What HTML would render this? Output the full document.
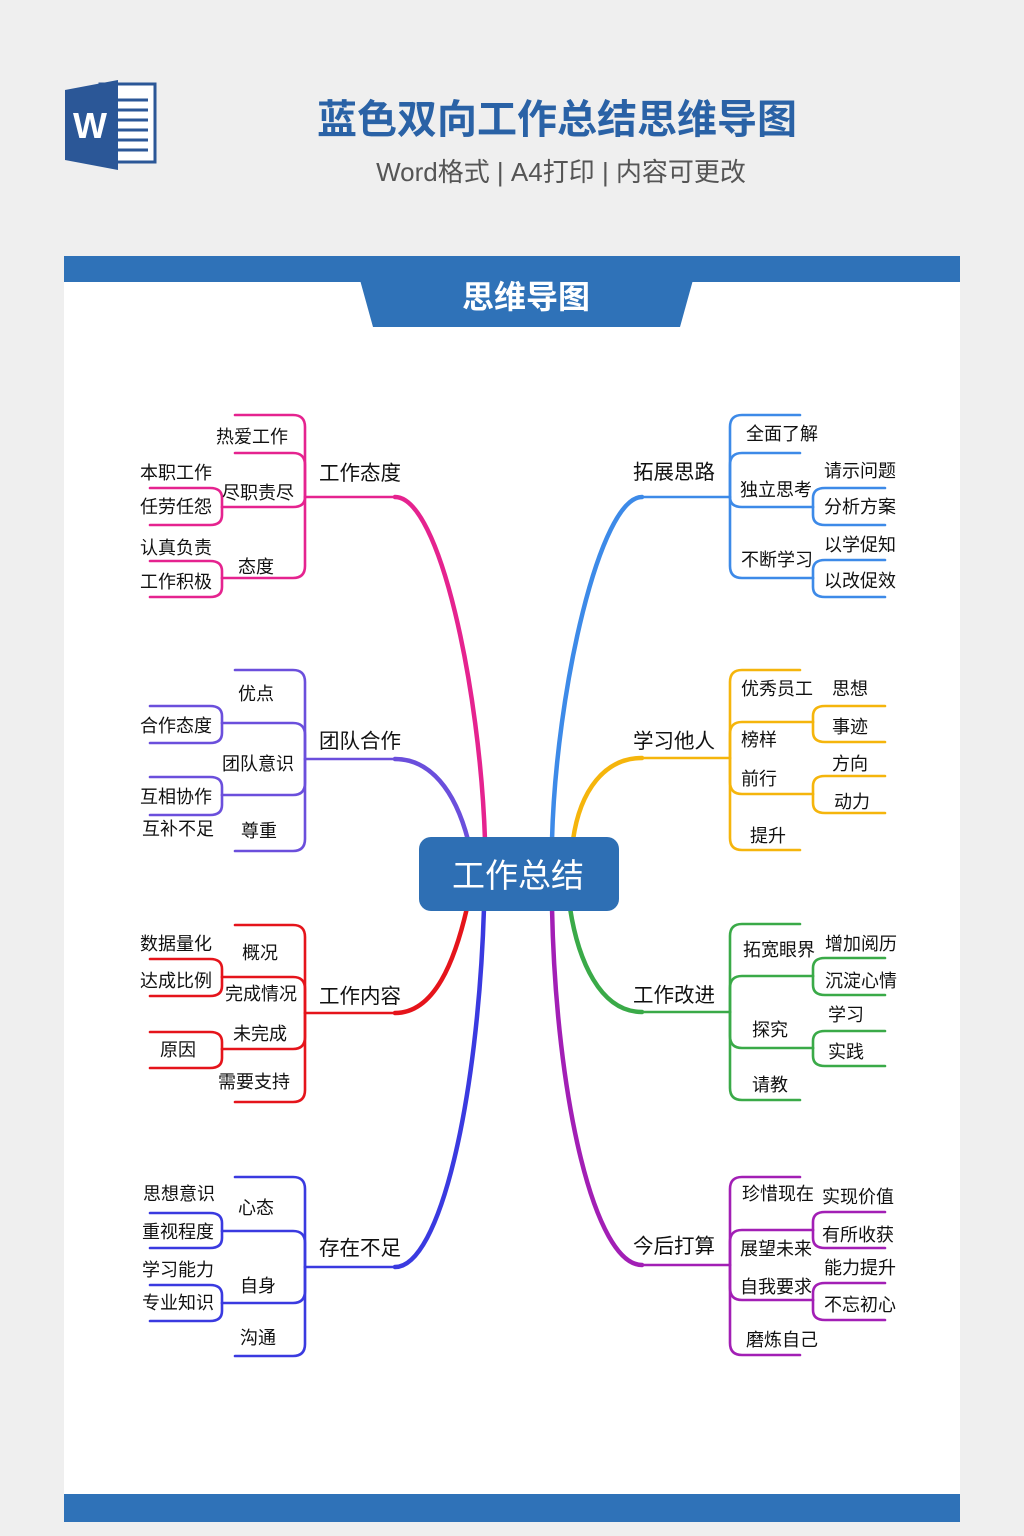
<!DOCTYPE html>
<html><head><meta charset="utf-8"><style>
html,body{margin:0;padding:0;width:1024px;height:1536px;background:#efefef;overflow:hidden}
svg{display:block}
text{font-family:"Liberation Sans","Noto Sans CJK SC",sans-serif}
</style></head><body>
<svg width="1024" height="1536" viewBox="0 0 1024 1536" xmlns="http://www.w3.org/2000/svg">
<rect width="1024" height="1536" fill="#efefef"/>
<!-- Word icon -->
<rect x="100" y="84" width="55" height="78" fill="#fff" stroke="#2b5797" stroke-width="3"/>
<g stroke="#2b5797" stroke-width="3">
<line x1="118" y1="100" x2="148" y2="100"/><line x1="118" y1="110" x2="148" y2="110"/><line x1="118" y1="120" x2="148" y2="120"/><line x1="118" y1="130" x2="148" y2="130"/><line x1="118" y1="140" x2="148" y2="140"/><line x1="118" y1="150" x2="148" y2="150"/></g>
<polygon points="65,90 118,80 118,170 65,160" fill="#2b5797"/>
<text x="90" y="138" font-size="36" font-weight="bold" fill="#fff" text-anchor="middle">W</text>
<text x="557" y="133" font-size="40" font-weight="bold" fill="#2a62a6" text-anchor="middle">蓝色双向工作总结思维导图</text>
<text x="561" y="181" font-size="26" fill="#555" text-anchor="middle">Word格式 | A4打印 | 内容可更改</text>
<!-- panel -->
<rect x="64" y="256" width="896" height="1266" fill="#fff"/>
<rect x="64" y="256" width="896" height="26" fill="#2f72b8"/>
<polygon points="360,280 693,280 680,327 373,327" fill="#2f72b8"/>
<text x="526" y="308" font-size="32" font-weight="bold" fill="#fff" text-anchor="middle">思维导图</text>
<rect x="64" y="1494" width="896" height="28" fill="#2f72b8"/>

<g fill="none" stroke-linecap="round" stroke-width="2.6">
<g stroke="#e5238f">
<path d="M395,497 C440,497 480,690 485,840" stroke-width="4.5"/>
<path d="M305,497 L395,497"/>
<path d="M305,497 L305,427 Q305,415 293,415 L235,415"/>
<path d="M305,497 L305,465 Q305,453 293,453 L235,453"/>
<path d="M305,497 Q305,507 293,507 L222,507"/>
<path d="M305,497 L305,566 Q305,578 293,578 L222,578"/>
<path d="M222,507 L222,498 Q222,488 210,488 L150,488"/>
<path d="M222,507 L222,515 Q222,525 210,525 L150,525"/>
<path d="M222,578 L222,571 Q222,561 210,561 L150,561"/>
<path d="M222,578 L222,587 Q222,597 210,597 L150,597"/>
</g>
<g stroke="#6b4fdc">
<path d="M395,759 C430,759 455,790 468,840" stroke-width="4.5"/>
<path d="M305,759 L395,759"/>
<path d="M305,759 L305,682 Q305,670 293,670 L235,670"/>
<path d="M305,759 L305,735 Q305,723 293,723 L222,723"/>
<path d="M305,759 L305,783 Q305,795 293,795 L222,795"/>
<path d="M305,759 L305,839 Q305,851 293,851 L235,851"/>
<path d="M222,723 L222,716 Q222,706 210,706 L150,706"/>
<path d="M222,723 L222,733 Q222,743 210,743 L150,743"/>
<path d="M222,795 L222,787 Q222,777 210,777 L150,777"/>
<path d="M222,795 L222,805 Q222,815 210,815 L150,815"/>
</g>
<g stroke="#e5141b">
<path d="M395,1013 C435,1013 455,960 467,908" stroke-width="4.5"/>
<path d="M305,1013 L395,1013"/>
<path d="M305,1013 L305,937 Q305,925 293,925 L235,925"/>
<path d="M305,1013 L305,989 Q305,977 293,977 L222,977"/>
<path d="M305,1013 L305,1037 Q305,1049 293,1049 L222,1049"/>
<path d="M305,1013 L305,1090 Q305,1102 293,1102 L235,1102"/>
<path d="M222,977 L222,969 Q222,959 210,959 L150,959"/>
<path d="M222,977 L222,986 Q222,996 210,996 L150,996"/>
<path d="M222,1049 L222,1042 Q222,1032 210,1032 L150,1032"/>
<path d="M222,1049 L222,1058 Q222,1068 210,1068 L150,1068"/>
</g>
<g stroke="#3a3ae0">
<path d="M395,1267 C440,1267 478,1100 484,908" stroke-width="4.5"/>
<path d="M305,1267 L395,1267"/>
<path d="M305,1267 L305,1189 Q305,1177 293,1177 L235,1177"/>
<path d="M305,1267 L305,1243 Q305,1231 293,1231 L222,1231"/>
<path d="M305,1267 L305,1291 Q305,1303 293,1303 L222,1303"/>
<path d="M305,1267 L305,1344 Q305,1356 293,1356 L235,1356"/>
<path d="M222,1231 L222,1223 Q222,1213 210,1213 L150,1213"/>
<path d="M222,1231 L222,1238 Q222,1248 210,1248 L150,1248"/>
<path d="M222,1303 L222,1295 Q222,1285 210,1285 L150,1285"/>
<path d="M222,1303 L222,1311 Q222,1321 210,1321 L150,1321"/>
</g>
<g stroke="#3d8ae8">
<path d="M642,497 C600,497 556,690 552,840" stroke-width="4.5"/>
<path d="M730,497 L642,497"/>
<path d="M730,497 L730,427 Q730,415 742,415 L800,415"/>
<path d="M730,497 L730,465 Q730,453 742,453 L800,453"/>
<path d="M730,497 Q730,507 742,507 L813,507"/>
<path d="M730,497 L730,566 Q730,578 742,578 L813,578"/>
<path d="M813,507 L813,498 Q813,488 825,488 L885,488"/>
<path d="M813,507 L813,515 Q813,525 825,525 L885,525"/>
<path d="M813,578 L813,570 Q813,560 825,560 L885,560"/>
<path d="M813,578 L813,587 Q813,597 825,597 L885,597"/>
</g>
<g stroke="#f5b50c">
<path d="M642,758 C605,758 580,790 573,840" stroke-width="4.5"/>
<path d="M730,758 L642,758"/>
<path d="M730,758 L730,682 Q730,670 742,670 L800,670"/>
<path d="M730,758 L730,734 Q730,722 742,722 L813,722"/>
<path d="M730,758 L730,782 Q730,794 742,794 L813,794"/>
<path d="M730,758 L730,838 Q730,850 742,850 L800,850"/>
<path d="M813,722 L813,716 Q813,706 825,706 L885,706"/>
<path d="M813,722 L813,732 Q813,742 825,742 L885,742"/>
<path d="M813,794 L813,786 Q813,776 825,776 L885,776"/>
<path d="M813,794 L813,803 Q813,813 825,813 L885,813"/>
</g>
<g stroke="#3aaa48">
<path d="M642,1012 C600,1012 578,960 570,908" stroke-width="4.5"/>
<path d="M730,1012 L642,1012"/>
<path d="M730,1012 L730,936 Q730,924 742,924 L800,924"/>
<path d="M730,1012 L730,988 Q730,976 742,976 L813,976"/>
<path d="M730,1012 L730,1036 Q730,1048 742,1048 L813,1048"/>
<path d="M730,1012 L730,1088 Q730,1100 742,1100 L800,1100"/>
<path d="M813,976 L813,968 Q813,958 825,958 L885,958"/>
<path d="M813,976 L813,985 Q813,995 825,995 L885,995"/>
<path d="M813,1048 L813,1041 Q813,1031 825,1031 L885,1031"/>
<path d="M813,1048 L813,1056 Q813,1066 825,1066 L885,1066"/>
</g>
<g stroke="#a21fb5">
<path d="M642,1265 C595,1265 556,1100 552,908" stroke-width="4.5"/>
<path d="M730,1265 L642,1265"/>
<path d="M730,1265 L730,1189 Q730,1177 742,1177 L800,1177"/>
<path d="M730,1265 L730,1242 Q730,1230 742,1230 L813,1230"/>
<path d="M730,1265 L730,1288 Q730,1300 742,1300 L813,1300"/>
<path d="M730,1265 L730,1343 Q730,1355 742,1355 L800,1355"/>
<path d="M813,1230 L813,1222 Q813,1212 825,1212 L885,1212"/>
<path d="M813,1230 L813,1238 Q813,1248 825,1248 L885,1248"/>
<path d="M813,1300 L813,1293 Q813,1283 825,1283 L885,1283"/>
<path d="M813,1300 L813,1310 Q813,1320 825,1320 L885,1320"/>
</g>
</g>

<rect x="419" y="837" width="200" height="74" rx="12" fill="#2e6fb4"/>
<text x="518" y="887" font-size="33" fill="#fff" text-anchor="middle">工作总结</text>

<g font-size="20.5" fill="#111">
<text x="319" y="480">工作态度</text>
<text x="319" y="748">团队合作</text>
<text x="319" y="1003">工作内容</text>
<text x="319" y="1255">存在不足</text>
<text x="633" y="479">拓展思路</text>
<text x="633" y="748">学习他人</text>
<text x="633" y="1002">工作改进</text>
<text x="633" y="1253">今后打算</text>
</g>
<g font-size="18" fill="#111">
<text x="216" y="443">热爱工作</text>
<text x="140" y="479">本职工作</text>
<text x="222" y="499">尽职责尽</text>
<text x="140" y="513">任劳任怨</text>
<text x="140" y="554">认真负责</text>
<text x="238" y="573">态度</text>
<text x="140" y="588">工作积极</text>

<text x="238" y="700">优点</text>
<text x="140" y="732">合作态度</text>
<text x="222" y="770">团队意识</text>
<text x="140" y="803">互相协作</text>
<text x="142" y="835">互补不足</text>
<text x="241" y="837">尊重</text>

<text x="140" y="950">数据量化</text>
<text x="242" y="959">概况</text>
<text x="140" y="987">达成比例</text>
<text x="225" y="1000">完成情况</text>
<text x="233" y="1040">未完成</text>
<text x="160" y="1056">原因</text>
<text x="218" y="1088">需要支持</text>

<text x="143" y="1200">思想意识</text>
<text x="238" y="1214">心态</text>
<text x="142" y="1238">重视程度</text>
<text x="142" y="1276">学习能力</text>
<text x="240" y="1292">自身</text>
<text x="142" y="1309">专业知识</text>
<text x="240" y="1344">沟通</text>

<text x="746" y="440">全面了解</text>
<text x="740" y="496">独立思考</text>
<text x="824" y="477">请示问题</text>
<text x="824" y="513">分析方案</text>
<text x="741" y="566">不断学习</text>
<text x="824" y="551">以学促知</text>
<text x="824" y="587">以改促效</text>

<text x="741" y="695">优秀员工</text>
<text x="832" y="695">思想</text>
<text x="741" y="746">榜样</text>
<text x="832" y="733">事迹</text>
<text x="741" y="785">前行</text>
<text x="832" y="770">方向</text>
<text x="834" y="808">动力</text>
<text x="750" y="842">提升</text>

<text x="743" y="956">拓宽眼界</text>
<text x="825" y="950">增加阅历</text>
<text x="825" y="987">沉淀心情</text>
<text x="828" y="1021">学习</text>
<text x="752" y="1036">探究</text>
<text x="828" y="1058">实践</text>
<text x="752" y="1091">请教</text>

<text x="742" y="1200">珍惜现在</text>
<text x="822" y="1203">实现价值</text>
<text x="740" y="1255">展望未来</text>
<text x="822" y="1241">有所收获</text>
<text x="740" y="1293">自我要求</text>
<text x="824" y="1274">能力提升</text>
<text x="824" y="1311">不忘初心</text>
<text x="746" y="1346">磨炼自己</text>
</g>
</svg>
</body></html>
